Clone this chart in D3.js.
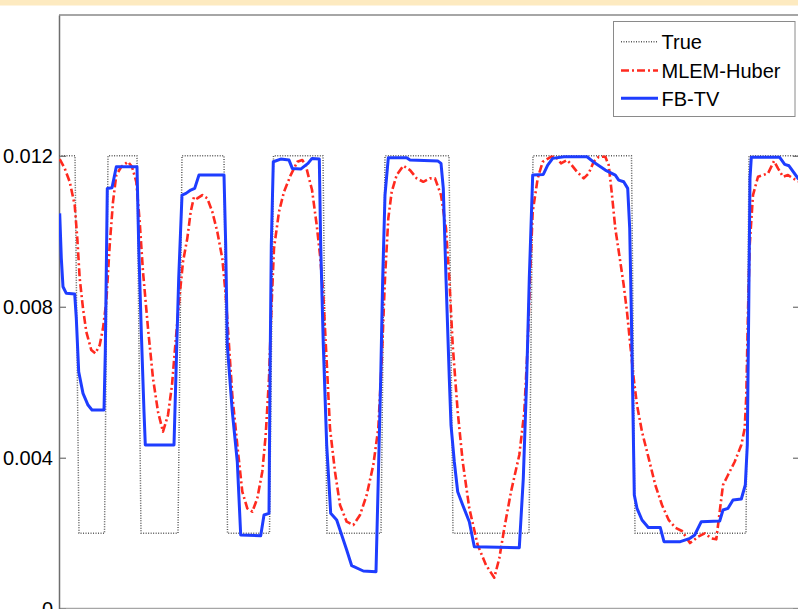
<!DOCTYPE html>
<html>
<head>
<meta charset="utf-8">
<script src="https://cdn.jsdelivr.net/npm/d3@7/dist/d3.min.js"></script>
<style>
  html, body { margin: 0; padding: 0; background: #fff; }
  svg { display: block; }
  text { font-family: "Liberation Sans", Arial, Helvetica, sans-serif; }
</style>
</head>
<body>
<svg id="chart" width="798" height="609"></svg>
<script>
// Profile position along the line (same units for all series)
const trueX = [0, 16, 20, 45.5, 49, 78, 82, 119, 123, 165, 168.5, 210.5, 214.5, 264, 268, 322, 326, 390, 394, 470, 474, 572.5, 576, 687, 690, 741];
const trueY = [0.012, 0.012, 0.002, 0.002, 0.012, 0.012, 0.002, 0.002, 0.012, 0.012, 0.002, 0.002, 0.012, 0.012, 0.002, 0.002, 0.012, 0.012, 0.002, 0.002, 0.012, 0.012, 0.002, 0.002, 0.012, 0.012];

const huberX = [0.7, 5.7, 10.7, 15.7, 18.3, 20.7, 24, 27.3, 32.3, 36.3, 40.7, 44, 47.3, 50.7, 54, 57.3, 62.3, 69, 73, 77.3,
  80.7, 84, 89, 94, 99, 104, 109, 113, 116.3, 120.7, 124, 128.3, 131.7, 135, 138.3, 143.3, 148.3, 153.3, 158.3, 163.3,
  166.7, 170, 173.3, 178.3, 183.3, 188.3, 193.3, 198.3, 203.3, 206.7, 210, 212.3, 215, 220, 225, 231.7, 238.3, 243.3, 246.7, 250,
  253, 257.7, 261, 264.3, 267.7, 271, 276, 281, 287.7, 294.3, 301, 307.7, 314.3, 319.3, 322.7, 326, 329.3, 332.7, 337.7, 344.3,
  351, 357.7, 364.3, 371, 376, 379, 382, 387, 390.3, 393.7, 398.7, 403.7, 410.3, 418.7, 427, 435.3, 440.3, 445.3, 452, 460.3,
  465.3, 468.7, 471, 473.7, 478.7, 483.7, 492, 497, 502, 508, 511.3, 518, 524.7, 529.7, 534.7, 539.7, 546.3, 549.7, 553, 556.3,
  561.3, 564.7, 568, 571.3, 574.7, 578, 583, 589.7, 596.3, 603, 609.7, 616.3, 623, 631, 639, 645.7, 652.3, 657.3, 660.7, 664,
  669, 675.7, 682.3, 685.7, 687.3, 689, 690.7, 694, 699, 704, 709, 715, 719, 724, 729, 734, 739, 741];
const huberY = [0.011913, 0.011666, 0.011311, 0.010694, 0.009812, 0.008752, 0.007958, 0.007338, 0.006853, 0.006766, 0.006985, 0.007428, 0.008132, 0.009634, 0.010781, 0.011489, 0.011709, 0.011841, 0.011709, 0.011311,
  0.010252, 0.008927, 0.007428, 0.006103, 0.005219, 0.004689, 0.005131, 0.005926, 0.006985, 0.008310, 0.009192, 0.009812, 0.010517, 0.010914, 0.010871, 0.010959, 0.010871, 0.010517, 0.009987, 0.009282,
  0.008310, 0.006985, 0.005661, 0.004336, 0.003099, 0.002660, 0.002570, 0.002924, 0.003629, 0.004601, 0.006103, 0.007867, 0.009547, 0.010517, 0.011046, 0.011489, 0.011841, 0.011886, 0.011754, 0.011401,
  0.011100, 0.010164, 0.009369, 0.008310, 0.006543, 0.004779, 0.003629, 0.002747, 0.002305, 0.002217, 0.002482, 0.003012, 0.003807, 0.004779, 0.006543, 0.008752, 0.010342, 0.011046, 0.011489, 0.011735,
  0.011621, 0.011401, 0.011311, 0.011401, 0.011401, 0.011179, 0.010959, 0.010077, 0.008752, 0.006985, 0.005219, 0.003894, 0.002660, 0.001687, 0.001158, 0.000821, 0.001335, 0.002130, 0.003099, 0.004072,
  0.005219, 0.006985, 0.008752, 0.010517, 0.011401, 0.011841, 0.011973, 0.011973, 0.011800, 0.011886, 0.011799, 0.011576, 0.011401, 0.011534, 0.011841, 0.011973, 0.011973, 0.011754, 0.010959, 0.010077,
  0.009192, 0.008575, 0.007867, 0.006985, 0.006103, 0.005396, 0.004689, 0.003984, 0.003277, 0.002747, 0.002350, 0.002146, 0.002058, 0.001740, 0.001907, 0.001997, 0.001865, 0.001838, 0.002570, 0.003277,
  0.003542, 0.003894, 0.004336, 0.004779, 0.005661, 0.007867, 0.009634, 0.010959, 0.011444, 0.011489, 0.011534, 0.011860, 0.011666, 0.011444, 0.011489, 0.011401, 0.011330, 0.011300];

const tvX = [0.7, 2.3, 4, 7.3, 15.7, 17.3, 19.7, 24, 29, 33, 45, 46.3, 48.3, 53, 57.3, 78, 79.7, 82.3, 85, 86.3,
  115, 117.3, 119.7, 123, 127, 131.7, 135.7, 140, 165, 166.7, 168.3, 173.3, 178.3, 181.7, 201.7, 205, 210, 211, 212.3, 214.3,
  221.7, 230, 233.3, 241.7, 249, 253, 260.3, 261.7, 264.3, 267.7, 271.7, 277.7, 282.7, 287.7, 292.7, 304.3, 317, 319.3, 321.7, 323.7,
  326, 329.3, 347.7, 351, 379, 382, 384.3, 387, 390.3, 392, 395.3, 398.7, 403.7, 410.3, 415.3, 460.3, 464.3, 467.7, 470.3, 473.7,
  484.3, 488.7, 493.7, 505, 528, 536.3, 546.3, 556.3, 559.7, 564.7, 568.7, 570.7, 572.3, 573.7, 575.3, 578, 583, 589.3, 601.3, 605,
  621.3, 631, 635.7, 642.3, 660.7, 664, 669, 674, 682.3, 686.3, 688.3, 689.7, 691, 692.3, 720.7, 725.7, 730, 739, 741];
const tvY = [0.010474, 0.009290, 0.008530, 0.008355, 0.008336, 0.007701, 0.006278, 0.005706, 0.005396, 0.005264, 0.005264, 0.006808, 0.011136, 0.011152, 0.011709, 0.011709, 0.009634, 0.007338, 0.005219, 0.004336,
  0.004336, 0.006543, 0.008752, 0.010959, 0.011004, 0.011091, 0.011136, 0.011489, 0.011489, 0.009634, 0.006985, 0.005219, 0.003894, 0.001952, 0.001934, 0.002482, 0.002527, 0.006103, 0.009634, 0.011841,
  0.011913, 0.011886, 0.011666, 0.011648, 0.011799, 0.011931, 0.011913, 0.009634, 0.006985, 0.004336, 0.002527, 0.002350, 0.001952, 0.001555, 0.001139, 0.000999, 0.000980, 0.003454, 0.006103, 0.008752,
  0.010959, 0.011947, 0.011947, 0.011886, 0.011860, 0.011799, 0.011136, 0.008752, 0.006103, 0.004866, 0.003894, 0.003099, 0.002747, 0.002305, 0.001642, 0.001616, 0.003454, 0.006103, 0.008752, 0.011489,
  0.011507, 0.011754, 0.011931, 0.011973, 0.011973, 0.011799, 0.011621, 0.011489, 0.011356, 0.011311, 0.011136, 0.010077, 0.007867, 0.005661, 0.003012, 0.002660, 0.002350, 0.002151, 0.002151, 0.001775,
  0.001775, 0.001865, 0.001952, 0.002305, 0.002323, 0.002615, 0.002660, 0.002879, 0.002906, 0.003277, 0.004336, 0.007867, 0.011401, 0.011958, 0.011958, 0.011772, 0.011735, 0.011401, 0.011350];

const yTicks = [0, 0.004, 0.008, 0.012];
const yTickLabels = ["0", "0.004", "0.008", "0.012"];
const seriesNames = ["True", "MLEM-Huber", "FB-TV"];

const svg = d3.select("#chart");
const W = 798, H = 609;
const plotLeft = 59, plotRight = 800, plotTop = 15, plotBottom = 608.7;

// banner strip across the top of the page
svg.append("rect").attr("x", 0).attr("y", 0).attr("width", W).attr("height", 5.5).attr("fill", "#fdeac0");

const x = d3.scaleLinear().domain([0, 741]).range([plotLeft, plotRight]);
const y = d3.scaleLinear().domain([0, 0.01573]).range([plotBottom, plotTop]);

svg.append("defs").append("clipPath").attr("id", "plotclip")
  .append("rect").attr("x", plotLeft).attr("y", plotTop)
  .attr("width", plotRight - plotLeft).attr("height", plotBottom - plotTop);

// frame
svg.append("line").attr("x1", plotLeft).attr("x2", W).attr("y1", plotTop).attr("y2", plotTop)
  .attr("stroke", "#a6a6a6").attr("stroke-width", 2);
svg.append("line").attr("x1", plotLeft).attr("x2", W).attr("y1", plotBottom).attr("y2", plotBottom)
  .attr("stroke", "#a6a6a6").attr("stroke-width", 2);

// left axis, ticks pointing inward
const yAxis = d3.axisLeft(y).tickValues(yTicks)
  .tickFormat((d, i) => yTickLabels[i]).tickSizeInner(-7).tickSizeOuter(0).tickPadding(6);
const ga = svg.append("g").attr("transform", `translate(${plotLeft},0)`).call(yAxis);
ga.select(".domain").attr("stroke", "#6e6e6e").attr("stroke-width", 1.5);
ga.selectAll(".tick line").attr("stroke", "#6e6e6e").attr("stroke-width", 1.2);
ga.selectAll(".tick text").attr("font-size", 20).attr("fill", "#000")
  .attr("font-family", "'Liberation Sans', Arial, Helvetica, sans-serif");

// right axis ticks (inward)
const yAxisR = d3.axisRight(y).tickValues(yTicks).tickFormat("").tickSizeInner(-7).tickSizeOuter(0);
const gr = svg.append("g").attr("transform", `translate(${plotRight},0)`).call(yAxisR);
gr.select(".domain").attr("stroke", "#6e6e6e").attr("stroke-width", 1.5);
gr.selectAll(".tick line").attr("stroke", "#6e6e6e").attr("stroke-width", 1.2);

const line = d3.line().x(d => x(d[0])).y(d => y(d[1]));
const plot = svg.append("g").attr("clip-path", "url(#plotclip)");

const styles = [
  { stroke: "#5a5a5a", width: 1.5, dash: "1,1.5" },
  { stroke: "#ff2a1f", width: 2.6, dash: "8,3,2,3" },
  { stroke: "#1e3dff", width: 3, dash: null }
];
const series = [
  d3.zip(trueX, trueY),
  d3.zip(huberX, huberY),
  d3.zip(tvX, tvY)
];

series.forEach((s, i) => {
  plot.append("path").datum(s).attr("d", line)
    .attr("fill", "none")
    .attr("stroke", styles[i].stroke)
    .attr("stroke-width", styles[i].width)
    .attr("stroke-dasharray", styles[i].dash)
    .attr("stroke-linejoin", "round");
});

// legend
const lg = svg.append("g");
lg.append("rect").attr("x", 613.5).attr("y", 21.5).attr("width", 181.5).attr("height", 95)
  .attr("fill", "#fff").attr("stroke", "#8a8a8a").attr("stroke-width", 1);
const rowY = [41.7, 70.5, 98.3];
seriesNames.forEach((name, i) => {
  lg.append("line").attr("x1", 621).attr("x2", 658).attr("y1", rowY[i]).attr("y2", rowY[i])
    .attr("stroke", styles[i].stroke).attr("stroke-width", styles[i].width)
    .attr("stroke-dasharray", styles[i].dash);
  lg.append("text").attr("x", 661.5).attr("y", rowY[i]).attr("dy", "0.36em")
    .attr("font-size", 20).attr("fill", "#000").text(name);
});
</script>
</body>
</html>
